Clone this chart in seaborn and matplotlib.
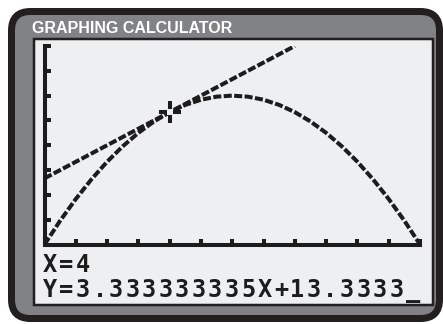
import matplotlib
matplotlib.use("Agg")
import matplotlib.pyplot as plt
import seaborn as sns
import pandas as pd
from matplotlib.patches import FancyBboxPatch, Rectangle
from matplotlib.transforms import IdentityTransform

# ---- data ----
parab_x = [0, 0.5, 1, 1.5, 2, 2.5, 3, 3.5, 4, 4.5, 5, 5.5, 6,
           6.5, 7, 7.5, 8, 8.5, 9, 9.5, 10, 10.5, 11, 11.5, 12]
parab_y = [0, 4.79, 9.17, 13.13, 16.67, 19.79, 22.5, 24.79, 26.67, 28.13, 29.17, 29.79, 30,
           29.79, 29.17, 28.13, 26.67, 24.79, 22.5, 19.79, 16.67, 13.13, 9.17, 4.79, 0]
tangent_x = [0, 8]
tangent_y = [13.33, 40]
cursor_x = [4]
cursor_y = [26.67]
x_ticks = list(range(0, 13, 1))
y_ticks = list(range(0, 41, 5))
title_text = "GRAPHING CALCULATOR"
line1_text = "X=4"
line2_text = "Y=3.333333335X+13.3333_"

W, H = 443, 324
BLACK = "#231f20"
GRAY = "#818285"
SCREEN = "#edeff1"
INK = "#1c1c1c"

sns.set_style("white")
fig = plt.figure(figsize=(W / 100, H / 100), dpi=100)
fig.patch.set_facecolor("white")
ident = IdentityTransform()

# calculator body
body = FancyBboxPatch((11.5, H - 318.5), 428, 307,
                      boxstyle="round,pad=0,rounding_size=19",
                      fc=GRAY, ec=BLACK, lw=7 * 0.72,
                      transform=ident, zorder=-10)
fig.add_artist(body)
screen = Rectangle((34, H - 305), 399, 266, fc=SCREEN, ec=BLACK,
                   lw=2.5 * 0.72, transform=ident, zorder=-9)
fig.add_artist(screen)

fig.text(32, H - 33, title_text, transform=ident, color="white",
         fontsize=11.5, fontweight="bold", family="Liberation Sans",
         ha="left", va="baseline")

# graph
ax = fig.add_axes([44.5 / W, (H - 244.5) / H, (420 - 44.5) / W, (244.5 - 46) / H])
ax.set_facecolor("none")
df_p = pd.DataFrame({"x": parab_x, "y": parab_y})
df_t = pd.DataFrame({"x": tangent_x, "y": tangent_y})
sns.lineplot(data=df_p, x="x", y="y", ax=ax, color=INK, lw=2.9)
sns.lineplot(data=df_t, x="x", y="y", ax=ax, color=INK, lw=2.9)
for ln in ax.lines:
    ln.set_linestyle((0, (2.0, 0.6)))
    ln.set_dash_capstyle("butt")

ax.plot(cursor_x, cursor_y, marker="+", ms=16, mew=2.9, color=INK, ls="none", zorder=5)
ax.plot(cursor_x, cursor_y, marker="s", ms=4.5, mew=0, color=SCREEN, ls="none", zorder=6)

ax.set_xlim(0, 12)
ax.set_ylim(0, 40)
ax.set_xticks(x_ticks)
ax.set_yticks(y_ticks)
ax.set_xticklabels([])
ax.set_yticklabels([])
ax.set_xlabel("")
ax.set_ylabel("")
for s in ["top", "right"]:
    ax.spines[s].set_visible(False)
for s in ["left", "bottom"]:
    ax.spines[s].set_visible(True)
    ax.spines[s].set_linewidth(2.9)
    ax.spines[s].set_color(INK)
ax.tick_params(direction="in", length=4.3, width=2.9, color=INK,
               left=True, bottom=True)
ax.grid(False)

# bottom text lines (calculator style, fixed pitch)
pitch = 16.5
for row, (txt, base) in enumerate([(line1_text, 272), (line2_text, 297)]):
    for i, ch in enumerate(txt):
        fig.text(50 + i * pitch, H - base, ch, transform=ident, color=INK,
                 fontsize=17, fontweight="bold", family="DejaVu Sans Mono",
                 ha="center", va="baseline")

fig.savefig("out.png", dpi=100, facecolor="white")
